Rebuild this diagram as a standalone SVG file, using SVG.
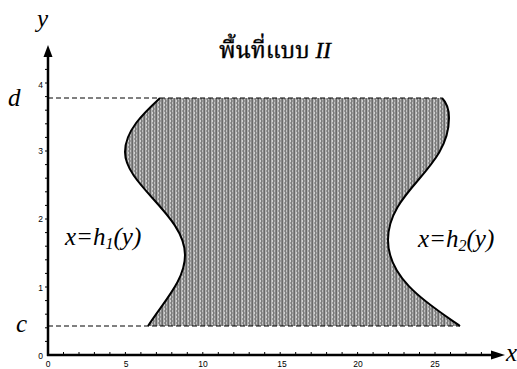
<svg xmlns="http://www.w3.org/2000/svg" width="517" height="369" viewBox="0 0 517 369">
<style>
.lbl{font-family:"Liberation Serif","Times New Roman",serif;font-style:italic;fill:#000}
.big{font-size:25px}
.tick{font-family:"Liberation Sans",Arial,sans-serif;font-size:8.5px;fill:#000}
.axis{stroke:#000;stroke-width:2.5;fill:none}
.tk{stroke:#000;stroke-width:1;fill:none}
.dash{stroke:#000;stroke-width:1;stroke-dasharray:5,3;fill:none}
.edge{stroke:#000;stroke-width:2;fill:none}
</style>
<defs>
<pattern id="stripes" width="6" height="4" patternUnits="userSpaceOnUse">
<rect width="6" height="4" fill="#9a9a9a"/>
<rect x="0" width="1" height="4" fill="#6a6a6a"/>
<rect x="1" width="1" height="4" fill="#b4b4b4"/>
<rect x="2" width="1" height="2" fill="#d2d2d2"/>
<rect x="3" width="1" height="4" fill="#7c7c7c"/>
<rect x="4" y="2" width="1" height="2" fill="#c0c0c0"/>
<rect x="5" width="1" height="4" fill="#888"/>
</pattern>
</defs>
<rect width="517" height="369" fill="#fff"/>

<g id="region">
<path d="M160,98 C145,112 125,130 125,152 C125,185 185,215 185,255 C185,280 165,300 148,326 L460,326 C430,305 388,280 388,240 C388,190 449,170 449,118 C449,108 446,102 442,98 Z" fill="url(#stripes)"/>
<path class="edge" d="M160,98 C145,112 125,130 125,152 C125,185 185,215 185,255 C185,280 165,300 148,326"/>
<path class="edge" d="M460,326 C430,305 388,280 388,240 C388,190 449,170 449,118 C449,108 446,102 442,98"/>
</g>

<g id="guides">
<line class="dash" x1="48" y1="98" x2="442" y2="98"/>
<line class="dash" x1="48" y1="326" x2="460" y2="326"/>
</g>

<g id="axes">
<line class="axis" x1="48" y1="356" x2="48" y2="56"/>
<polygon points="48,45 43.5,57 52.5,57" fill="#000"/>
<line class="axis" x1="47" y1="355" x2="492" y2="355"/>
<polygon points="505,355 491,350.5 491,359.5" fill="#000"/>
<g class="tk">
<path d="M48,341.4h-3M48,327.8h-3M48,314.2h-3M48,300.6h-3M48,287h-3M48,273.4h-3M48,259.8h-3M48,246.2h-3M48,232.6h-3M48,219h-3M48,205.4h-3M48,191.8h-3M48,178.2h-3M48,164.6h-3M48,151h-3M48,137.4h-3M48,123.8h-3M48,110.2h-3M48,96.6h-3M48,83h-3M48,69.4h-3"/>
<path d="M63.5,355v-3M79,355v-3M94.4,355v-3M109.9,355v-3M125.4,355v-3M140.9,355v-3M156.4,355v-3M171.8,355v-3M187.3,355v-3M202.8,355v-3M218.3,355v-3M233.8,355v-3M249.2,355v-3M264.7,355v-3M280.2,355v-3M295.7,355v-3M311.2,355v-3M326.6,355v-3M342.1,355v-3M357.6,355v-3M373.1,355v-3M388.6,355v-3M404,355v-3M419.5,355v-3M435,355v-3M450.5,355v-3M466,355v-3M481.4,355v-3"/>
</g>
<g class="tick" text-anchor="end">
<text x="43" y="359">0</text>
<text x="43" y="291">1</text>
<text x="43" y="222">2</text>
<text x="43" y="154">3</text>
<text x="43" y="88">4</text>
</g>
<g class="tick" text-anchor="middle">
<text x="48" y="367">0</text>
<text x="126" y="367">5</text>
<text x="203" y="367">10</text>
<text x="282" y="367">15</text>
<text x="358" y="367">20</text>
<text x="435" y="367">25</text>
</g>
</g>

<g id="labels">
<text class="lbl big" x="37" y="27">y</text>
<text class="lbl big" x="506" y="361">x</text>
<text class="lbl big" x="8" y="106">d</text>
<text class="lbl big" x="16" y="332">c</text>
<text class="lbl big" x="65" y="245">x=h<tspan font-size="16" dy="4">1</tspan><tspan dy="-4">(y)</tspan></text>
<text class="lbl big" x="418" y="247">x=h<tspan font-size="16" dy="4">2</tspan><tspan dy="-4">(y)</tspan></text>
<text x="275" y="58" text-anchor="middle" font-family="'Noto Serif Thai','Noto Sans Thai','Liberation Serif',serif" font-size="23" fill="#000" stroke="#000" stroke-width="0.4">พื้นที่แบบ <tspan font-style="italic" font-family="'Liberation Serif',serif">II</tspan></text>
</g>
</svg>
